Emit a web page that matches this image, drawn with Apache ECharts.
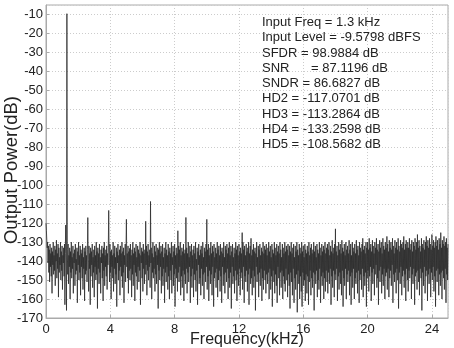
<!DOCTYPE html>
<html>
<head>
<meta charset="utf-8">
<script src="https://cdn.jsdelivr.net/npm/echarts@6/dist/echarts.min.js"></script>
<style>
  html, body { margin: 0; padding: 0; background: #fff; }
  #main { width: 454px; height: 348px; }
</style>
</head>
<body>
<div id="main"></div>
<script>
  // FFT bins, 0.025 kHz apart (dB); one array per 1.25 kHz
  var binStep = 0.025;
  var b00 = [-120,-124,-129,-133,-130,-141,-132,-146,-134,-151,-131,-143,-136,-148,-133,-157,-135,-142,-130,-147,-137,-145,-132,-153,-134,-140,-129,-149,-136,-144,-131,-159,-133,-146,-138,-142,-130,-150,-135,-145,-132,-155,-137,-141,-133,-148,-131,-163,-136,-121];
  var b01 = [-140,-166,-9.58,-134,-147,-131,-152,-137,-143,-133,-160,-135,-146,-130,-149,-138,-144,-132,-157,-136,-141,-134,-153,-131,-147,-139,-145,-133,-162,-135,-142,-130,-150,-137,-146,-132,-158,-134,-143,-136,-149,-131,-155,-138,-144,-133,-161,-135,-147,-132];
  var b02 = [-145,-137,-151,-134,-117.07,-139,-156,-132,-144,-136,-163,-133,-148,-135,-142,-131,-154,-138,-146,-134,-159,-132,-143,-137,-150,-130,-147,-135,-165,-133,-144,-136,-152,-131,-146,-138,-157,-134,-141,-132,-149,-136,-161,-133,-145,-130,-153,-137,-143,-134];
  var b03 = [-148,-132,-155,-136,-142,-133,-113.29,-138,-151,-131,-146,-135,-160,-134,-143,-137,-149,-130,-156,-136,-144,-132,-152,-138,-147,-133,-164,-135,-141,-131,-150,-137,-145,-134,-158,-132,-143,-136,-148,-130,-154,-135,-146,-133,-162,-137,-142,-131,-151,-134];
  var b04 = [-118,-143,-136,-149,-132,-157,-135,-145,-133.26,-150,-131,-144,-137,-159,-134,-147,-130,-153,-136,-142,-133,-161,-135,-146,-131,-148,-138,-155,-132,-143,-134,-151,-136,-145,-130,-163,-137,-141,-133,-149,-135,-156,-131,-144,-136,-152,-134,-147,-119,-142];
  var b05 = [-132,-158,-135,-145,-131,-150,-137,-143,-134,-154,-108.57,-141,-133,-160,-136,-146,-130,-149,-138,-144,-132,-156,-135,-147,-131,-152,-137,-142,-133,-165,-134,-145,-130,-150,-136,-143,-132,-157,-135,-148,-131,-153,-138,-144,-133,-162,-136,-146,-130,-151];
  var b06 = [-134,-143,-137,-155,-131,-148,-135,-160,-133,-145,-136,-150,-130,-157,-138,-142,-132,-153,-135,-147,-131,-164,-137,-144,-133,-149,-136,-156,-124,-146,-132,-151,-134,-143,-130,-158,-137,-148,-133,-154,-135,-145,-131,-161,-136,-147,-134,-152,-117,-144];
  var b07 = [-133,-157,-136,-146,-130,-151,-138,-143,-132,-162,-135,-148,-131,-154,-137,-144,-134,-159,-132,-147,-136,-150,-130,-156,-139,-145,-133,-163,-135,-142,-131,-152,-137,-149,-134,-158,-132,-144,-136,-153,-130,-147,-138,-160,-133,-146,-135,-151,-131,-143];
  var b08 = [-118,-155,-134,-148,-131,-161,-137,-145,-133,-152,-130,-147,-136,-158,-132,-143,-135,-164,-131,-149,-138,-146,-133,-154,-136,-144,-130,-159,-134,-150,-132,-145,-137,-156,-131,-148,-135,-162,-133,-143,-136,-153,-130,-147,-138,-157,-132,-146,-134,-151];
  var b09 = [-131,-144,-136,-160,-133,-149,-130,-154,-137,-146,-132,-165,-135,-143,-131,-152,-138,-148,-133,-157,-136,-145,-130,-150,-134,-161,-132,-147,-137,-153,-131,-144,-135,-158,-133,-149,-136,-146,-125,-155,-130,-143,-134,-162,-132,-148,-137,-151,-131,-145];
  var b10 = [-135,-156,-133,-147,-130,-163,-136,-144,-132,-152,-128,-149,-137,-158,-134,-145,-131,-154,-135,-148,-133,-166,-136,-143,-130,-151,-138,-147,-132,-159,-134,-146,-131,-153,-137,-144,-133,-161,-135,-149,-130,-155,-136,-145,-132,-150,-134,-157,-131,-147];
  var b11 = [-137,-152,-133,-146,-130,-160,-135,-144,-132,-155,-138,-148,-131,-164,-134,-145,-136,-151,-130,-157,-133,-147,-137,-153,-131,-162,-135,-143,-132,-149,-136,-158,-130,-146,-134,-154,-138,-145,-131,-160,-133,-148,-136,-152,-130,-156,-135,-144,-132,-150];
  var b12 = [-134,-159,-131,-147,-137,-153,-132,-165,-135,-146,-130,-151,-136,-158,-133,-144,-131,-162,-138,-149,-132,-155,-135,-147,-130,-167,-134,-145,-137,-152,-131,-160,-133,-148,-136,-156,-130,-164,-135,-146,-132,-153,-138,-150,-131,-161,-134,-147,-136,-157];
  var b13 = [-132,-148,-135,-163,-130,-151,-137,-145,-133,-158,-131,-149,-136,-154,-134,-146,-130,-166,-135,-147,-132,-152,-138,-145,-131,-159,-134,-150,-136,-155,-130,-144,-133,-162,-137,-148,-131,-153,-135,-146,-132,-160,-134,-149,-130,-156,-136,-145,-133,-151];
  var b14 = [-131,-157,-134,-146,-130,-152,-137,-144,-132,-163,-135,-148,-129,-154,-136,-145,-133,-159,-131,-147,-123,-150,-135,-144,-132,-161,-137,-148,-130,-155,-134,-146,-131,-152,-136,-158,-129,-145,-133,-164,-135,-149,-131,-153,-137,-144,-130,-160,-134,-147];
  var b15 = [-132,-151,-136,-145,-129,-158,-134,-148,-131,-163,-137,-146,-130,-154,-133,-144,-135,-160,-131,-149,-136,-152,-129,-146,-134,-157,-132,-145,-137,-162,-130,-150,-133,-147,-135,-155,-131,-144,-128,-159,-134,-148,-132,-153,-136,-146,-130,-164,-133,-149];
  var b16 = [-130,-145,-134,-156,-128,-148,-133,-143,-131,-161,-135,-146,-129,-152,-132,-144,-136,-158,-130,-147,-133,-142,-128,-154,-134,-149,-131,-163,-135,-145,-129,-151,-133,-143,-130,-157,-136,-147,-128,-153,-132,-144,-134,-160,-130,-148,-133,-146,-127,-155];
  var b17 = [-131,-144,-135,-159,-129,-149,-133,-145,-130,-153,-134,-142,-128,-162,-132,-147,-136,-151,-129,-146,-133,-157,-130,-144,-134,-150,-128,-165,-132,-146,-135,-152,-129,-143,-131,-158,-133,-148,-130,-145,-127,-154,-134,-147,-131,-161,-129,-144,-133,-150];
  var b18 = [-130,-156,-133,-145,-128,-149,-134,-143,-131,-160,-129,-147,-135,-152,-130,-144,-132,-163,-128,-148,-134,-146,-130,-155,-126,-145,-133,-151,-129,-158,-132,-144,-135,-149,-128,-166,-131,-146,-133,-153,-129,-143,-134,-157,-130,-148,-127,-145,-132,-161];
  var b19 = [-129,-147,-133,-152,-128,-144,-131,-159,-134,-146,-126,-150,-132,-143,-129,-156,-133,-148,-130,-164,-127,-145,-132,-151,-129,-144,-134,-158,-128,-147,-131,-153,-125,-146,-133,-160,-129,-145,-131,-149,-127,-155,-132,-144,-130,-162,-128,-147,-133,-150,-131];

  var xMax = 25;
  var infoLines = [
    'Input Freq = 1.3 kHz',
    'Input Level = -9.5798 dBFS',
    'SFDR = 98.9884 dB',
    'SNR      = 87.1196 dB',
    'SNDR = 86.6827 dB',
    'HD2 = -117.0701 dB',
    'HD3 = -113.2864 dB',
    'HD4 = -133.2598 dB',
    'HD5 = -108.5682 dB'
  ];

  var spectrum = [].concat(b00, b01, b02, b03, b04, b05, b06, b07, b08, b09,
                           b10, b11, b12, b13, b14, b15, b16, b17, b18, b19);
  var points = spectrum.map(function (v, i) {
    return [Math.round(i * binStep * 1000) / 1000, v];
  });

  var font = 'Liberation Sans, Arial, Helvetica, sans-serif';
  var chart = echarts.init(document.getElementById('main'), null, { renderer: 'canvas' });

  var option = {
    backgroundColor: '#fff',
    animation: false,
    grid: {
      left: 46, right: 6, top: 5, bottom: 30,
      outerBoundsMode: 'none',
      show: true, borderColor: '#aaa', borderWidth: 1
    },
    xAxis: {
      type: 'value',
      min: 0,
      max: xMax,
      interval: 4,
      axisLine: { show: true, lineStyle: { color: '#aaa' } },
      axisTick: { show: true, inside: true, length: 3, lineStyle: { color: '#aaa' } },
      axisLabel: { fontSize: 13, color: '#222', fontFamily: font, margin: 5, showMaxLabel: false },
      splitLine: { show: true, lineStyle: { color: '#ccc', type: [1, 2] } }
    },
    yAxis: {
      type: 'value',
      min: -170,
      max: -5,
      interval: 10,
      axisLine: { show: true, lineStyle: { color: '#aaa' } },
      axisTick: { show: true, inside: true, length: 3, lineStyle: { color: '#aaa' } },
      axisLabel: { fontSize: 13, color: '#222', fontFamily: font, margin: 3, showMaxLabel: false },
      splitLine: { show: true, lineStyle: { color: '#ccc', type: [1, 2] } }
    },
    series: [{
      type: 'line',
      data: points,
      showSymbol: false,
      symbol: 'none',
      lineStyle: { color: '#2b2b2b', width: 0.8 },
      z: 3
    }],
    graphic: [{
      type: 'text',
      left: 262,
      top: 15,
      z: 10,
      style: {
        text: infoLines.join('\n'),
        fontSize: 13,
        lineHeight: 15.25,
        fontFamily: font,
        fill: '#222'
      }
    }, {
      // x axis title
      type: 'text',
      x: 247,
      y: 340,
      style: {
        text: 'Frequency(kHz)',
        fontSize: 16,
        fontFamily: font,
        fill: '#222',
        align: 'center',
        verticalAlign: 'middle'
      }
    }, {
      // y axis title
      type: 'text',
      x: 12,
      y: 170,
      rotation: Math.PI / 2,
      style: {
        text: 'Output Power(dB)',
        fontSize: 18.5,
        fontFamily: font,
        fill: '#222',
        align: 'center',
        verticalAlign: 'middle'
      }
    }]
  };

  chart.setOption(option);
</script>
</body>
</html>
